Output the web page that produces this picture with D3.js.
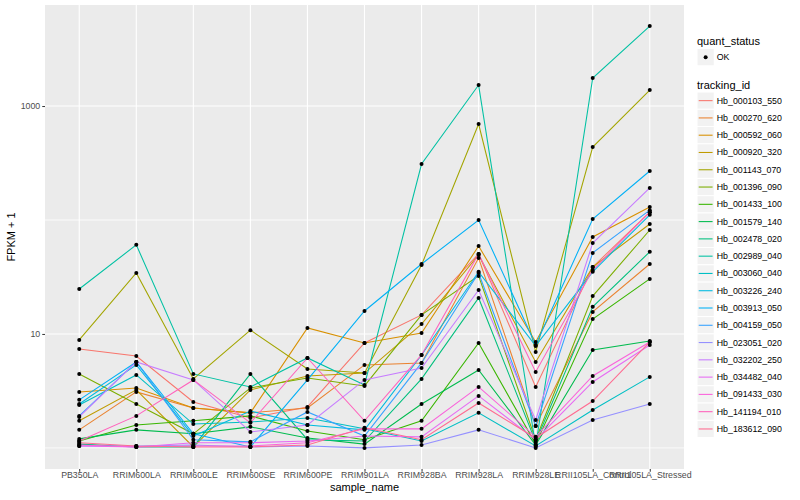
<!DOCTYPE html>
<html>
<head>
<meta charset="utf-8">
<script src="https://cdn.jsdelivr.net/npm/d3@7"></script>
<style>
  body { margin: 0; background: #fff; }
  text { font-family: "Liberation Sans", Arial, Helvetica, sans-serif; }
</style>
</head>
<body>
<div id="chart-area"></div>
<script>
// x categories
var samples = ["PB350LA", "RRIM600LA", "RRIM600LE", "RRIM600SE", "RRIM600PE", "RRIM901LA",
               "RRIM928BA", "RRIM928LA", "RRIM928LE", "RRII105LA_Control", "RRII105LA_Stressed"];

var trackingIds = ["Hb_000103_550", "Hb_000270_620", "Hb_000592_060", "Hb_000920_320", "Hb_001143_070",
                   "Hb_001396_090", "Hb_001433_100", "Hb_001579_140", "Hb_002478_020", "Hb_002989_040",
                   "Hb_003060_040", "Hb_003226_240", "Hb_003913_050", "Hb_004159_050", "Hb_023051_020",
                   "Hb_032202_250", "Hb_034482_040", "Hb_091433_030", "Hb_141194_010", "Hb_183612_090"];

// FPKM + 1, one array per gene, in sample order
var hb000103_550 = [7.39, 6.41, 2.53, 1.83, 2.29, 8.34, 14.7, 50.4, 3.43, 38.7, 117];
var hb000270_620 = [1.44, 3.10, 2.24, 2.03, 2.24, 5.35, 5.57, 46.4, 1.56, 15.6, 41.1];
var hb000592_060 = [3.10, 3.36, 2.24, 2.03, 11.3, 8.34, 10.2, 59.1, 8.50, 71.0, 130];
var hb000920_320 = [1.73, 3.23, 1.02, 3.23, 4.28, 4.54, 12.2, 49.3, 5.68, 38.7, 92.2];
var hb001143_070 = [8.86, 34.3, 4.03, 10.8, 4.93, 4.54, 40.3, 695, 6.95, 437, 1380];
var hb001396_090 = [4.46, 2.43, 1.33, 3.36, 4.11, 3.50, 14.7, 32.3, 1.18, 21.5, 81.7];
var hb001433_100 = [1.15, 1.59, 1.73, 1.91, 1.41, 1.18, 1.73, 8.34, 1.08, 13.5, 30.4];
var hb001579_140 = [1.20, 1.44, 1.33, 1.53, 1.22, 1.08, 2.43, 4.83, 1.06, 7.24, 8.67];
var hb002478_020 = [1.08, 1.02, 1.02, 4.46, 1.18, 1.15, 4.03, 20.7, 1.13, 17.3, 52.6];
var hb002989_040 = [24.8, 60.5, 4.46, 3.43, 6.16, 3.57, 310, 1528, 1.04, 1761, 5030];
var hb003060_040 = [2.38, 4.37, 1.62, 1.69, 1.83, 1.47, 1.15, 2.03, 1.04, 2.15, 4.20];
var hb003226_240 = [2.43, 5.35, 1.27, 2.11, 1.59, 1.44, 6.54, 35.1, 7.85, 35.1, 111];
var hb003913_050 = [2.64, 5.68, 1.33, 1.02, 3.95, 15.9, 41.1, 100, 8.00, 102, 269];
var hb004159_050 = [1.91, 5.68, 1.18, 1.13, 2.07, 1.27, 5.57, 34.3, 1.56, 51.4, 122];
var hb023051_020 = [1.04, 1.04, 1.06, 1.02, 1.04, 1.00, 1.06, 1.44, 1.00, 1.76, 2.43];
var hb032202_250 = [1.87, 5.68, 3.95, 1.38, 1.59, 3.95, 5.03, 24.3, 1.76, 62.8, 191];
var hb034482_040 = [1.04, 1.02, 1.11, 1.11, 1.15, 1.27, 1.25, 2.86, 1.18, 3.79, 8.00];
var hb091433_030 = [1.06, 1.02, 1.04, 1.04, 1.11, 1.47, 1.47, 3.43, 1.25, 4.28, 8.50];
var hb141194_010 = [1.15, 1.91, 3.95, 1.66, 6.16, 1.73, 6.54, 50.4, 4.64, 36.4, 117];
var hb183612_090 = [1.11, 1.04, 1.02, 1.02, 1.06, 1.50, 1.18, 2.48, 1.22, 2.58, 8.50];

var seriesValues = [hb000103_550, hb000270_620, hb000592_060, hb000920_320, hb001143_070,
                    hb001396_090, hb001433_100, hb001579_140, hb002478_020, hb002989_040,
                    hb003060_040, hb003226_240, hb003913_050, hb004159_050, hb023051_020,
                    hb032202_250, hb034482_040, hb091433_030, hb141194_010, hb183612_090];

var yBreaks = [10, 1000];
var yMinor = [1, 100];

var hue = ["#F8766D", "#EA8331", "#D89000", "#C09B00", "#A3A500", "#7CAE00", "#39B600", "#00BB4E",
           "#00BF7D", "#00C1A3", "#00BFC4", "#00BAE0", "#00B0F6", "#35A2FF", "#9590FF", "#C77CFF",
           "#E76BF3", "#FA62DB", "#FF62BC", "#FF6C91"];

var W = 800, H = 500;
var panel = { left: 45, top: 5, right: 684, bottom: 469 };

var svg = d3.select("#chart-area")
    .append("svg")
    .attr("width", W)
    .attr("height", H);

var series = trackingIds.map(function(id, i){
    return { id: id, color: hue[i], values: seriesValues[i].map(function(v, j){
        return { sample: samples[j], value: v };
    })};
});

var x = d3.scalePoint()
    .domain(samples)
    .range([panel.left, panel.right])
    .padding(0.6);

// log10 scale with ggplot's 5% expansion
var all = d3.merge(seriesValues);
var lo = Math.log10(d3.min(all)), hi = Math.log10(d3.max(all));
var pad = (hi - lo) * 0.05;
var y = d3.scaleLog()
    .domain([Math.pow(10, lo - pad), Math.pow(10, hi + pad)])
    .range([panel.bottom, panel.top]);

svg.append("rect")
    .attr("x", panel.left).attr("y", panel.top)
    .attr("width", panel.right - panel.left)
    .attr("height", panel.bottom - panel.top)
    .attr("fill", "#EBEBEB");

var grid = svg.append("g");
grid.selectAll(".minor").data(yMinor).enter().append("line")
    .attr("x1", panel.left).attr("x2", panel.right)
    .attr("y1", function(d){ return y(d); }).attr("y2", function(d){ return y(d); })
    .attr("stroke", "#fff").attr("stroke-width", 0.8);
grid.selectAll(".major").data(yBreaks).enter().append("line")
    .attr("x1", panel.left).attr("x2", panel.right)
    .attr("y1", function(d){ return y(d); }).attr("y2", function(d){ return y(d); })
    .attr("stroke", "#fff").attr("stroke-width", 1.1);
grid.selectAll(".vx").data(samples).enter().append("line")
    .attr("x1", function(d){ return x(d); }).attr("x2", function(d){ return x(d); })
    .attr("y1", panel.top).attr("y2", panel.bottom)
    .attr("stroke", "#fff").attr("stroke-width", 1.1);

var line = d3.line()
    .x(function(d){ return x(d.sample); })
    .y(function(d){ return y(d.value); });

svg.append("g").selectAll("path")
    .data(series)
    .enter().append("path")
    .attr("d", function(d){ return line(d.values); })
    .attr("fill", "none")
    .attr("stroke", function(d){ return d.color; })
    .attr("stroke-width", 1.07);

svg.append("g").selectAll("g")
    .data(series)
    .enter().append("g")
    .selectAll("circle")
    .data(function(d){ return d.values; })
    .enter().append("circle")
    .attr("cx", function(d){ return x(d.sample); })
    .attr("cy", function(d){ return y(d.value); })
    .attr("r", 2)
    .attr("fill", "#000");

// axes
var xAxis = svg.append("g")
    .attr("transform", "translate(0," + panel.bottom + ")")
    .call(d3.axisBottom(x).tickSize(2.75).tickPadding(0));
xAxis.select(".domain").remove();
xAxis.selectAll("line").attr("stroke", "#333333");
xAxis.selectAll("text")
    .attr("fill", "#4D4D4D")
    .attr("font-size", "8.8px")
    .style("font-family", "'Liberation Sans', Arial, sans-serif");

var yAxis = svg.append("g")
    .attr("transform", "translate(" + panel.left + ",0)")
    .call(d3.axisLeft(y).tickValues(yBreaks).tickFormat(d3.format("d")).tickSize(2.75).tickPadding(2));
yAxis.select(".domain").remove();
yAxis.selectAll("line").attr("stroke", "#333333");
yAxis.selectAll("text")
    .attr("fill", "#4D4D4D")
    .attr("font-size", "8.8px")
    .style("font-family", "'Liberation Sans', Arial, sans-serif");

svg.append("text")
    .attr("x", (panel.left + panel.right) / 2)
    .attr("y", 491)
    .attr("text-anchor", "middle")
    .attr("font-size", "11px")
    .text("sample_name");

svg.append("text")
    .attr("transform", "translate(15," + ((panel.top + panel.bottom) / 2) + ") rotate(-90)")
    .attr("text-anchor", "middle")
    .attr("font-size", "11px")
    .text("FPKM + 1");

// legend
var lx = 697, key = 17.28;
svg.append("text").attr("x", lx).attr("y", 44.5).attr("font-size", "11px").text("quant_status");
svg.append("rect").attr("x", lx).attr("y", 48.5).attr("width", key).attr("height", key)
    .attr("fill", "#F2F2F2").attr("stroke", "#fff");
svg.append("circle").attr("cx", lx + key / 2).attr("cy", 48.5 + key / 2).attr("r", 2).attr("fill", "#000");
svg.append("text").attr("x", lx + key + 2.5).attr("y", 48.5 + key / 2 + 3)
    .attr("font-size", "8.8px").text("OK");

svg.append("text").attr("x", lx).attr("y", 88.5).attr("font-size", "11px").text("tracking_id");

var items = svg.append("g").selectAll("g")
    .data(series)
    .enter().append("g")
    .attr("transform", function(d, i){ return "translate(" + lx + "," + (92 + i * key) + ")"; });
items.append("rect")
    .attr("width", key).attr("height", key)
    .attr("fill", "#F2F2F2").attr("stroke", "#fff");
items.append("line")
    .attr("x1", 1.7).attr("x2", key - 1.7)
    .attr("y1", key / 2).attr("y2", key / 2)
    .attr("stroke", function(d){ return d.color; })
    .attr("stroke-width", 1.07);
items.append("text")
    .attr("x", key + 2.5).attr("y", key / 2 + 3)
    .attr("font-size", "8.8px")
    .text(function(d){ return d.id; });
</script>
</body>
</html>
